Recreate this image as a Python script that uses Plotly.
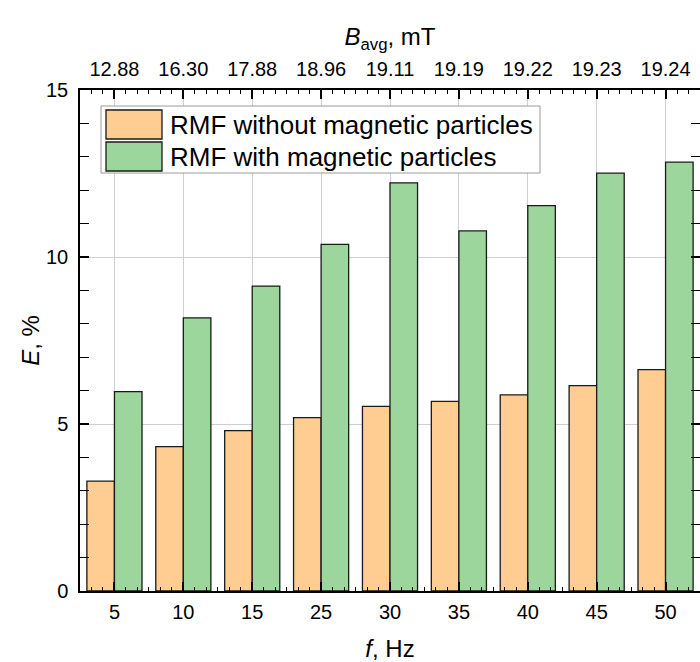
import plotly.graph_objects as go

freq_labels = ["5", "10", "15", "25", "30", "35", "40", "45", "50"]
b_avg_labels = ["12.88", "16.30", "17.88", "18.96", "19.11", "19.19", "19.22", "19.23", "19.24"]
e_without = [3.29, 4.32, 4.80, 5.19, 5.53, 5.68, 5.87, 6.15, 6.63]
e_with = [5.97, 8.18, 9.13, 10.38, 12.22, 10.78, 11.54, 12.51, 12.84]
series_names = ["RMF without magnetic particles", "RMF with magnetic particles"]

ORANGE = "#FFCC92"
GREEN = "#9DD69C"
EDGE = "#1a1a1a"
FONT = "Liberation Sans, Arial, sans-serif"

W, H = 700, 662
L, R, T, B = 80, 0, 90, 71
pos = list(range(len(freq_labels)))

fig = go.Figure()
fig.add_trace(go.Bar(x=pos, y=e_without, name=series_names[0],
                     marker=dict(color=ORANGE, line=dict(color=EDGE, width=1.3))))
fig.add_trace(go.Bar(x=pos, y=e_with, name=series_names[1],
                     marker=dict(color=GREEN, line=dict(color=EDGE, width=1.3))))
# invisible trace for top axis
fig.add_trace(go.Scatter(x=pos, y=e_with, xaxis="x2", mode="markers",
                         marker=dict(opacity=0), showlegend=False, hoverinfo="skip"))

minor_x = dict(dtick=1/6, tick0=0, ticks="inside", ticklen=4, tickwidth=1.3,
               tickcolor="black", showgrid=False)
tickfont = dict(family=FONT, size=20, color="black")
titlefont = dict(family=FONT, size=24, color="black")

fig.update_layout(
    width=W, height=H,
    margin=dict(l=L, r=R, t=T, b=B, autoexpand=False),
    paper_bgcolor="white", plot_bgcolor="white",
    barmode="group", bargap=0.2, bargroupgap=0,
    showlegend=False,
    font=dict(family=FONT, color="black"),
    xaxis=dict(
        range=[-0.5, len(pos) - 0.5], tickmode="array", tickvals=pos, ticktext=freq_labels,
        ticks="inside", ticklen=9, tickwidth=1.5, tickcolor="black",
        showline=True, linecolor="black", linewidth=1.5,
        showgrid=True, gridcolor="#cfcfcf", gridwidth=1, zeroline=False,
        minor=minor_x, tickfont=tickfont, ticklabelstandoff=2, automargin=False,
        title=dict(text="<i>f</i>, Hz", font=titlefont, standoff=20),
    ),
    xaxis2=dict(
        overlaying="x", side="top", matches="x",
        range=[-0.5, len(pos) - 0.5], tickmode="array", tickvals=pos, ticktext=b_avg_labels,
        ticks="inside", ticklen=9, tickwidth=1.5, tickcolor="black",
        showline=True, linecolor="black", linewidth=1.5,
        showgrid=False, zeroline=False,
        minor=minor_x, tickfont=tickfont, ticklabelstandoff=4, automargin=False,
        title=dict(text="<i>B</i><sub>avg</sub>, mT", font=titlefont, standoff=6),
    ),
    yaxis=dict(
        range=[0, 15], tickmode="linear", tick0=0, dtick=5,
        ticks="inside", ticklen=9, tickwidth=1.5, tickcolor="black",
        showline=True, linecolor="black", linewidth=1.5, mirror="allticks",
        showgrid=True, gridcolor="#cfcfcf", gridwidth=1, zeroline=False,
        minor=dict(dtick=1, tick0=0, ticks="inside", ticklen=4, tickwidth=1.3,
                   tickcolor="black", showgrid=False),
        tickfont=tickfont, ticklabelstandoff=6, automargin=False,
        title=dict(text="<i>E</i>, %", font=titlefont, standoff=0),
    ),
)

# manual legend (large swatches); positions given in pixels, converted to paper coords
pw, ph = W - L - R, H - T - B
def px(x):
    return (x - L) / pw
def py(y):
    return (H - B - y) / ph

shapes = [dict(type="rect", xref="paper", yref="paper",
               x0=px(101), x1=px(540), y0=py(173), y1=py(106),
               line=dict(color="#9a9a9a", width=1), fillcolor="white", layer="above")]
annotations = []
for i, (name, col) in enumerate(zip(series_names, [ORANGE, GREEN])):
    top = 110 + i * 32
    shapes.append(dict(type="rect", xref="paper", yref="paper",
                       x0=px(106), x1=px(162), y0=py(top + 29), y1=py(top),
                       line=dict(color=EDGE, width=1.3), fillcolor=col, layer="above"))
    annotations.append(dict(xref="paper", yref="paper", x=px(168), y=py(top + 15),
                            text=name, showarrow=False, xanchor="left", yanchor="middle",
                            font=dict(family=FONT, size=26, color="black")))
fig.update_layout(shapes=shapes, annotations=annotations)

# remove the page's default body margin so the figure fills the 700x662 window exactly
post = ("document.body.style.margin='0';document.body.style.padding='0';"
        "document.documentElement.style.overflow='hidden';document.body.style.overflow='hidden';")
fig.write_html("out.html", post_script=post, config={"displayModeBar": False})
